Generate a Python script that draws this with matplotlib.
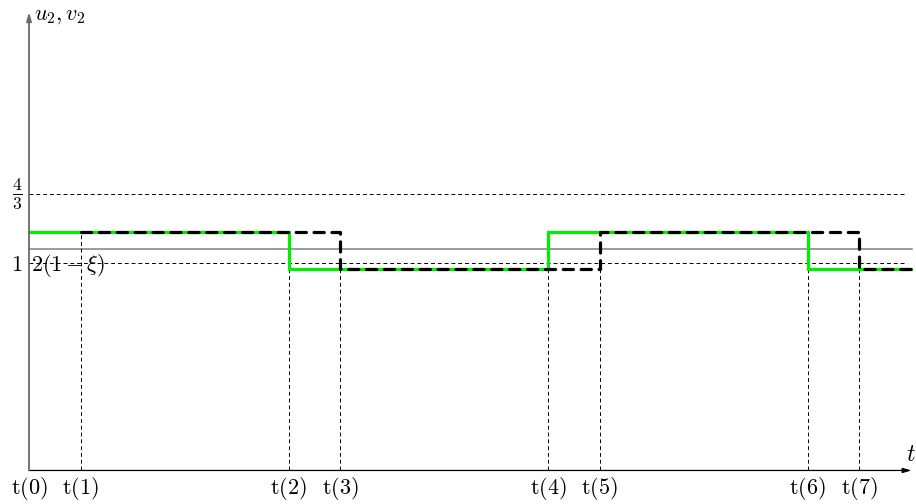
import matplotlib
matplotlib.use("Agg")
import matplotlib.pyplot as plt
import numpy as np

plt.rcParams['mathtext.fontset'] = 'cm'
plt.rcParams['font.family'] = ['DejaVu Serif']

# data
t_values = [0, 1, 5, 6, 10, 11, 15, 16]
t_labels = ['t(0)', 't(1)', 't(2)', 't(3)', 't(4)', 't(5)', 't(6)', 't(7)']
t_end = 17.0
u_high = 1.15
u_low = 0.975
ref_level = 1.07
green_times = [0, 5, 10, 15, 17]
green_values = [u_high, u_low, u_high, u_low]
black_times = [1, 6, 11, 16, 17]
black_values = [u_high, u_low, u_high, u_low]
y_levels = [1.0, 4.0 / 3.0]

fig = plt.figure(figsize=(9.16, 5.04), dpi=100)
ax = fig.add_axes([0, 0, 1, 1])
ax.set_xlim(-0.559, 17.09)
ax.set_ylim(-0.162, 2.272)
ax.axis('off')

# horizontal dashed reference lines
for yl in y_levels:
    ax.plot([0, 16.92], [yl, yl], color='black', lw=0.7, dashes=(4, 3))
# gray solid reference
ax.plot([0, 17.02], [ref_level, ref_level], color='#808080', lw=1.1)

# vertical dashed lines
for k, tv in enumerate(t_values[1:]):
    top = u_high if k == 0 else u_low
    ax.plot([tv, tv], [0, top], color='black', lw=0.7, dashes=(4, 3))

# green step
gx = np.repeat(green_times, 2)[1:-1]
gy = np.repeat(green_values, 2)
ax.plot(gx, gy, color='#00ee00', lw=2.3, solid_joinstyle='miter', zorder=3)

# black dashed step
bx = np.repeat(black_times, 2)[1:-1]
by = np.repeat(black_values, 2)
ax.plot(bx, by, color='black', lw=2.3, dashes=(3.2, 2.4),
        dash_capstyle='round', dash_joinstyle='round', zorder=4)

# axes
ax.annotate('', xy=(17.0, 0), xytext=(0, 0),
            arrowprops=dict(arrowstyle='-|>,head_length=0.5,head_width=0.15',
                            color='black', lw=0.9, shrinkA=0, shrinkB=0))
ax.annotate('', xy=(0, 2.213), xytext=(0, 0),
            arrowprops=dict(arrowstyle='-|>,head_length=0.5,head_width=0.15',
                            color='#6a6a6a', lw=1.3, shrinkA=0, shrinkB=0))

# tick labels
for tv, lab in zip(t_values, t_labels):
    ax.text(tv, -0.022, r'$\mathrm{' + lab + '}$', ha='center', va='top', fontsize=16)

ax.text(17.08, 0.02, r'$t$', ha='right', va='bottom', fontsize=17)
ax.text(0.1, 2.255, r'$u_2, v_2$', ha='left', va='top', fontsize=16)

ax.text(-0.13, 4.0 / 3.0, r'$\frac{4}{3}$', ha='right', va='center', fontsize=18)
ax.text(-0.12, 0.99, r'$1$', ha='right', va='center', fontsize=16)
ax.text(0.03, 0.99, r'$2(1-\xi)$', ha='left', va='center', fontsize=16)

fig.savefig('out.png', dpi=100)
